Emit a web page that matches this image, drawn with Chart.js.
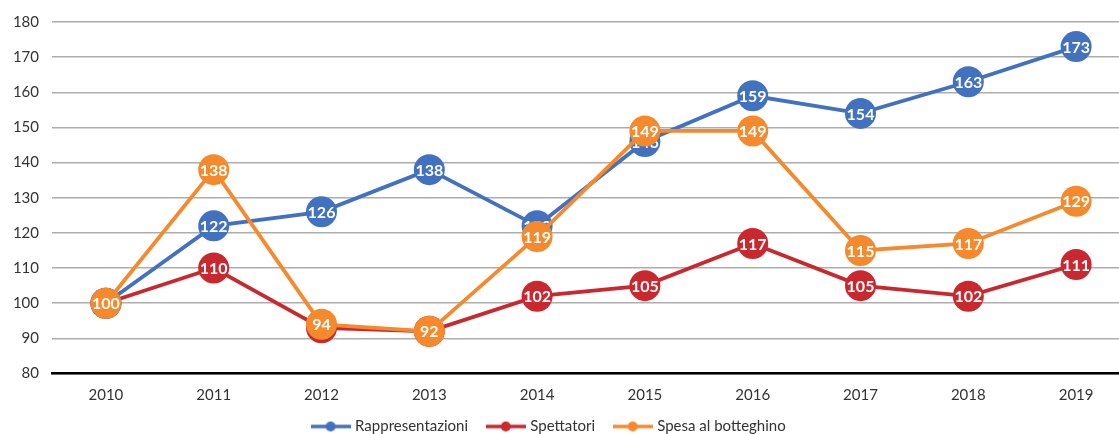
<!DOCTYPE html>
<html>
<head>
<meta charset="utf-8">
<script src="https://cdn.jsdelivr.net/npm/chart.js@4"></script>
<style>
  html, body { margin: 0; padding: 0; background: #fff; overflow: hidden; }
</style>
</head>
<body>
<canvas id="chart" width="1130" height="434"></canvas>
<script>
const years = ['2010', '2011', '2012', '2013', '2014', '2015', '2016', '2017', '2018', '2019']
const rappresentazioni = [100, 122, 126, 138, 122, 146, 159, 154, 163, 173]
const spettatori = [100, 110, 93, 92, 102, 105, 117, 105, 102, 111]
const spesaBotteghino = [100, 138, 94, 92, 119, 149, 149, 115, 117, 129]

const BLUE = '#4271c0'
const RED = '#c9282e'
const ORANGE = '#f5892c'
const FONT = 'Lato, "Noto Sans", sans-serif'

// little line + dot marker for the legend
function legendMarker(color) {
  const c = document.createElement('canvas')
  c.width = 40
  c.height = 12
  const ctx = c.getContext('2d')
  ctx.strokeStyle = color
  ctx.lineWidth = 3.5
  ctx.beginPath()
  ctx.moveTo(0, 6)
  ctx.lineTo(40, 6)
  ctx.stroke()
  ctx.fillStyle = color
  ctx.beginPath()
  ctx.arc(20, 6, 5, 0, Math.PI * 2)
  ctx.fill()
  return c
}

// white value inside every point, drawn right after its dataset
const pointLabels = {
  id: 'pointLabels',
  afterDatasetDraw(chart, args) {
    const ctx = chart.ctx
    const data = chart.data.datasets[args.index].data
    ctx.save()
    ctx.fillStyle = '#fff'
    ctx.font = 'bold 16px ' + FONT
    ctx.textAlign = 'center'
    ctx.textBaseline = 'middle'
    args.meta.data.forEach((pt, i) => {
      ctx.fillText(data[i], pt.x, pt.y + 1)
    })
    ctx.restore()
  }
}

function makeSet(label, data, color, order) {
  return {
    label: label,
    data: data,
    borderColor: color,
    backgroundColor: color,
    pointBackgroundColor: color,
    pointBorderWidth: 0,
    pointRadius: 15.5,
    pointHoverRadius: 15.5,
    borderWidth: 3.8,
    tension: 0,
    order: order,
    clip: false,
    pointStyle: 'circle'
  }
}

// trailing spaces: gap between items, and the last one nudges the block left
const legendPad = ['     ', '     ', '        ']

const ctx = document.getElementById('chart').getContext('2d')
const chart = new Chart(ctx, {
  type: 'line',
  data: {
    labels: years,
    datasets: [
      makeSet('Rappresentazioni', rappresentazioni, BLUE, 1),
      makeSet('Spettatori', spettatori, RED, 2),
      makeSet('Spesa al botteghino', spesaBotteghino, ORANGE, 0)
    ]
  },
  plugins: [pointLabels],
  options: {
    responsive: false,
    animation: false,
    layout: { autoPadding: false, padding: { top: 13, left: 0, right: 0, bottom: -10 } },
    plugins: {
      tooltip: { enabled: false },
      legend: {
        position: 'bottom',
        align: 'center',
        labels: {
          usePointStyle: true,
          pointStyleWidth: 34,
          boxHeight: 12,
          padding: 1.5,
          color: '#333',
          font: { family: FONT, size: 15 },
          sort: (a, b) => a.datasetIndex - b.datasetIndex,
          generateLabels(chart) {
            return chart.data.datasets.map((ds, i) => ({
              text: ds.label + legendPad[i],
              datasetIndex: i,
              pointStyle: legendMarker(ds.borderColor),
              fillStyle: ds.borderColor,
              strokeStyle: ds.borderColor,
              lineWidth: 0,
              fontColor: '#333',
              hidden: false
            }))
          }
        }
      }
    },
    scales: {
      x: {
        offset: true,
        grid: { display: false, drawTicks: false },
        border: { display: true, color: '#000', width: 2.5 },
        ticks: {
          color: '#333',
          padding: 13,
          font: { family: FONT, size: 15 }
        }
      },
      y: {
        min: 80,
        max: 180,
        afterFit(scale) { scale.width = 52 },
        grid: {
          color: '#adadad',
          lineWidth: 1.5,
          drawTicks: false
        },
        border: { display: false },
        ticks: {
          stepSize: 10,
          color: '#333',
          padding: 13,
          font: { family: FONT, size: 15 }
        }
      }
    }
  }
})
</script>
</body>
</html>
